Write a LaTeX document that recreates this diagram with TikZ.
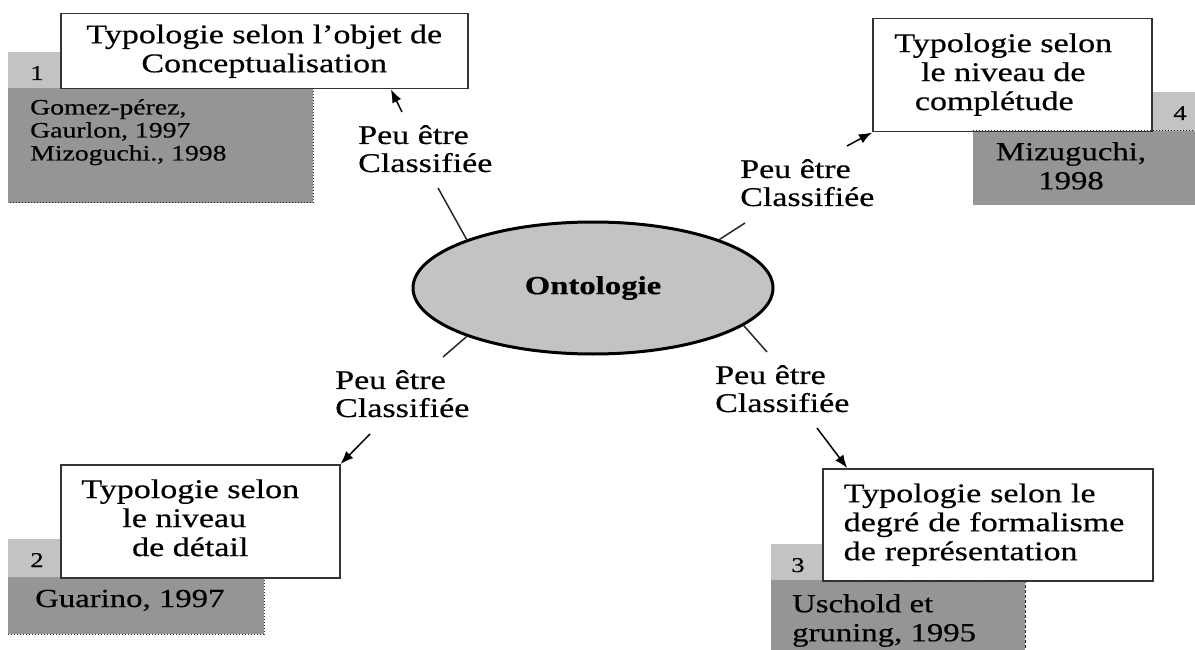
\documentclass[tikz,border=0pt]{standalone}
\usepackage{fontspec}
\setmainfont[FakeStretch=1.26,FakeBold=0.5]{Liberation Serif}
\usetikzlibrary{shapes.geometric,arrows.meta,calc}
\definecolor{dgrey}{HTML}{959595}
\definecolor{lgrey}{HTML}{C3C3C3}
\tikzset{
  typebox/.style={draw=black!80, line width=1.5pt, fill=white, anchor=north west,
    align=center, inner sep=0pt, font=\fontsize{27}{29}\selectfont},
  reftext/.style={inner sep=0pt, font=\fontsize{26}{29}\selectfont},
  numtext/.style={inner sep=0pt, anchor=base, font=\fontsize{21}{22}\selectfont},
  lbl/.style={align=left, anchor=north west, inner sep=0pt, font=\fontsize{27}{28}\selectfont},
  link/.style={draw=black!85, line width=1.5pt},
  arr/.style={draw=black, line width=1.5pt, -{Latex[length=13pt,width=10pt]}},
  dotb/.style={draw=black!85, line width=1pt, dotted},
  dashb/.style={draw=black!85, line width=1pt, dash pattern=on 3pt off 2pt},
}
\begin{document}
\begin{tikzpicture}[x=1pt,y=-1pt]
\useasboundingbox (0,0) rectangle (1195,650);

% ---- grey reference panels ----
% 1
\fill[lgrey] (8,52) rectangle (60,88);
\fill[dgrey] (8,88) rectangle (313,203);
\draw[dotb] (313,88) -- (313,203) -- (8,203);
\node[numtext] (n1) at (37,80) {1};
\node[reftext, align=left, anchor=north west, font=\fontsize{22}{23}\selectfont] (r1) at (30,99)
  {Gomez-pérez,\\Gaurlon, 1997\\Mizoguchi., 1998};
% 4
\fill[lgrey] (1151,92) rectangle (1195,131);
\fill[dgrey] (973,131) rectangle (1195,205);
\node[numtext] (n4) at (1180,120) {4};
\node[reftext, align=center, anchor=north] (r4) at (1071,142) {Mizuguchi,\\1998};
% 2
\fill[lgrey] (8,539) rectangle (60,577);
\fill[dgrey] (8,577) rectangle (264,634);
\draw[dotb] (264,577) -- (264,634) -- (8,634);
\node[numtext] (n2) at (37,567) {2};
\node[reftext, anchor=base west] (r2) at (35,607) {Guarino, 1997};
% 3
\fill[lgrey] (771,544) rectangle (822,580);
\fill[dgrey] (771,580) rectangle (1025,650);
\draw[dashb] (1025,580) -- (1025,650);
\node[numtext] (n3) at (798,572) {3};
\node[reftext, align=left, anchor=north west] (r3) at (792,594) {Uschold et\\gruning, 1995};

% ---- typology boxes ----
\node[typebox, minimum width=407pt, minimum height=75pt] (b1) at (60,13)
  {Typologie selon l’objet de\\Conceptualisation};
\node[typebox, minimum width=279pt, minimum height=113pt] (b4) at (872,18)
  {\begin{tabular}{@{}c@{}}Typologie selon\\le niveau de\\complétude\hspace*{18pt}\end{tabular}\hspace*{18pt}};
\node[typebox, minimum width=279pt, minimum height=113pt] (b2) at (60,464)
  {\begin{tabular}{@{}c@{}}Typologie selon\\le niveau\hspace*{12pt}\\de détail\end{tabular}\hspace*{20pt}};
\node[typebox, minimum height=112pt, align=left, text width=288pt, inner xsep=21pt] (b3) at (822,468)
  {Typologie selon le\\degré de formalisme\\de représentation};
\draw[dotb] (973,131) -- (1195,131);
\draw[dotb] (822,580) -- (1025,580);

% ---- central concept ----
\node[ellipse, draw=black, line width=3pt, fill=lgrey, minimum width=360pt, minimum height=132pt,
  font=\bfseries\fontsize{26}{29}\selectfont] (onto) at (593,288) {Ontologie};

% ---- labels ----
\node[lbl] (l1) at (358,125) {Peu être\\Classifiée};
\node[lbl] (l2) at (740,159) {Peu être\\Classifiée};
\node[lbl] (l3) at (335,370) {Peu être\\Classifiée};
\node[lbl] (l4) at (715,365) {Peu être\\Classifiée};

% ---- connector ends ----
\coordinate (l1in) at (438,188);
\coordinate (l1out) at (402,112);
\coordinate (l2in) at (745,223);
\coordinate (l2out) at (847,146);
\coordinate (l3in) at (443,357);
\coordinate (l3out) at (370,434);
\coordinate (l4in) at (767,352);
\coordinate (l4out) at (817,428);

\draw[link] (onto.159) -- (l1in);
\draw[arr] (l1out) -- ($(b1.south west)!0.81!(b1.south east)$);
\draw[link] (onto.21) -- (l2in);
\draw[arr] (l2out) -- (b4.south west);
\draw[link] (onto.201) -- (l3in);
\draw[arr] (l3out) -- (b2.north east);
\draw[link] (onto.346) -- (l4in);
\draw[arr] (l4out) -- ($(b3.north west)!0.076!(b3.north east)$);
\end{tikzpicture}
\end{document}
